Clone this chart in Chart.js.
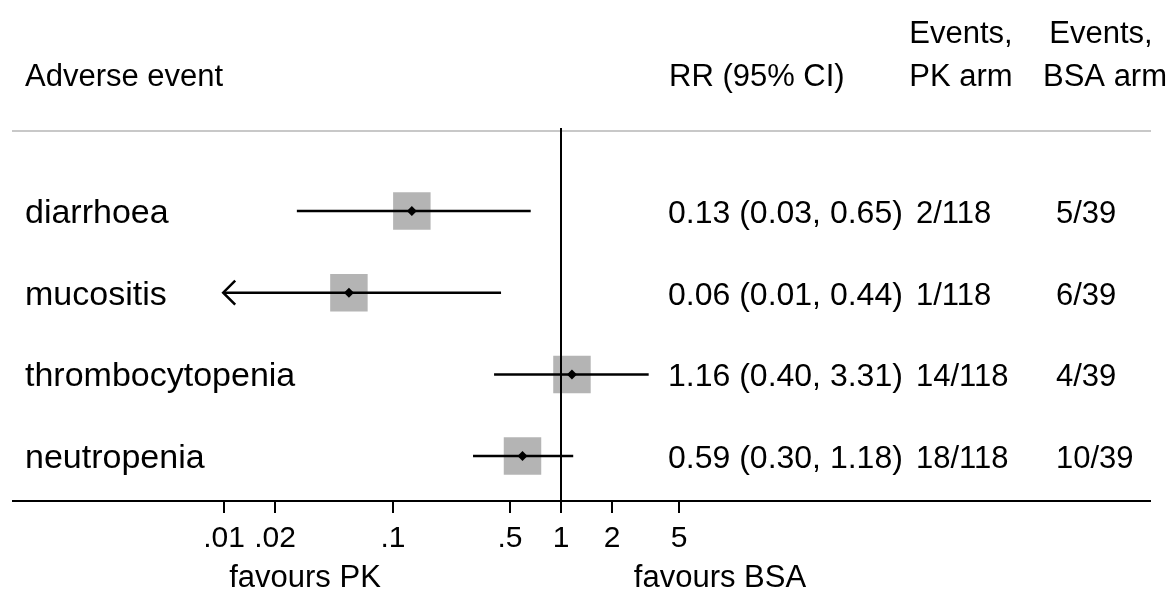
<!DOCTYPE html>
<html>
<head>
<meta charset="utf-8">
<title>Adverse events forest plot</title>
<script src="https://cdn.jsdelivr.net/npm/chart.js@4/dist/chart.umd.min.js"></script>
<style>
  html, body { margin: 0; padding: 0; background: #fff; }
  #wrap { width: 1176px; height: 592px; }
</style>
</head>
<body>
<div id="wrap"><canvas id="forest" width="1176" height="592"></canvas></div>
<script>
// --- data ---
const events     = ['diarrhoea', 'mucositis', 'thrombocytopenia', 'neutropenia'];
const rr         = [0.13, 0.055, 1.16, 0.59];
const ciLow      = [0.027, 0.01, 0.40, 0.30];
const ciHigh     = [0.66, 0.44, 3.31, 1.18];
const lowClipped = [false, true, false, false];   // CI runs past the axis -> arrow
const rrText     = ['0.13 (0.03, 0.65)', '0.06 (0.01, 0.44)', '1.16 (0.40, 3.31)', '0.59 (0.30, 1.18)'];
const pkEvents   = ['2/118', '1/118', '14/118', '18/118'];
const bsaEvents  = ['5/39', '6/39', '4/39', '10/39'];
const tickValues = [0.01, 0.02, 0.1, 0.5, 1, 2, 5];
const tickLabels = ['.01', '.02', '.1', '.5', '1', '2', '5'];

const FONT = '"Liberation Sans", Arial, Helvetica, sans-serif';
const GREY_BOX = '#b4b4b4';

// text columns, axis, header lines etc.
const forestDecor = {
  id: 'forestDecor',
  afterDatasetsDraw(chart) {
    const { ctx, chartArea: a, scales: { x, y } } = chart;
    ctx.save();

    // header separator
    ctx.strokeStyle = '#c8c8c8';
    ctx.lineWidth = 2;
    ctx.beginPath(); ctx.moveTo(a.left, a.top); ctx.lineTo(a.right, a.top); ctx.stroke();

    // line of no effect
    ctx.strokeStyle = '#000';
    const x1 = Math.round(x.getPixelForValue(1));
    ctx.beginPath(); ctx.moveTo(x1, a.top - 3); ctx.lineTo(x1, a.bottom); ctx.stroke();

    // x axis
    ctx.beginPath(); ctx.moveTo(a.left, a.bottom); ctx.lineTo(a.right, a.bottom); ctx.stroke();
    ctx.font = '30px ' + FONT;
    ctx.fillStyle = '#000';
    ctx.textAlign = 'center';
    ctx.textBaseline = 'alphabetic';
    tickValues.forEach((v, i) => {
      const px = Math.round(x.getPixelForValue(v));
      ctx.beginPath(); ctx.moveTo(px, a.bottom); ctx.lineTo(px, a.bottom + 12); ctx.stroke();
      ctx.fillText(tickLabels[i], px, a.bottom + 46);
    });
    ctx.font = '31px ' + FONT;
    ctx.fillText('favours PK', 305, a.bottom + 86);
    ctx.fillText('favours BSA', 720, a.bottom + 86);

    // arrows for clipped intervals
    ctx.lineWidth = 2.5;
    events.forEach((_, i) => {
      if (!lowClipped[i]) return;
      const tip = x.getPixelForValue(ciLow[i]) - 1;
      const py = y.getPixelForValue(i);
      ctx.beginPath();
      ctx.moveTo(tip + 12, py - 12); ctx.lineTo(tip, py); ctx.lineTo(tip + 12, py + 12);
      ctx.stroke();
    });

    // headers
    ctx.font = '31px ' + FONT;
    ctx.textAlign = 'left';
    ctx.fillText('Adverse event', 25, 86);
    ctx.fillText('RR (95% CI)', 669, 86);
    ctx.textAlign = 'center';
    ctx.fillText('Events,', 961, 43);
    ctx.fillText('PK arm', 961, 86);
    ctx.fillText('Events,', 1101, 43);
    ctx.fillText('BSA arm', 1105, 86);

    // row text
    ctx.textAlign = 'left';
    events.forEach((name, i) => {
      const py = y.getPixelForValue(i) + 12;
      ctx.font = '34px ' + FONT;
      ctx.fillText(name, 25, py);
      ctx.font = '32px ' + FONT;
      ctx.fillText(rrText[i], 668, py);
      ctx.font = '31px ' + FONT;
      ctx.fillText(pkEvents[i], 916, py);
      ctx.fillText(bsaEvents[i], 1056, py);
    });

    ctx.restore();
  }
};

const ciSets = events.map((name, i) => ({
  type: 'line',
  label: name + ' CI',
  data: [{ x: ciLow[i], y: i }, { x: ciHigh[i], y: i }],
  borderColor: '#000',
  borderWidth: 2.5,
  pointRadius: 0,
  order: 1
}));

new Chart(document.getElementById('forest'), {
  type: 'scatter',
  data: {
    datasets: [
      {
        label: 'RR',
        data: rr.map((v, i) => ({ x: v, y: i })),
        pointStyle: 'rectRot',
        pointRadius: 5,
        backgroundColor: '#000',
        borderWidth: 0,
        order: 0
      },
      ...ciSets,
      {
        label: 'weight',
        data: rr.map((v, i) => ({ x: v, y: i })),
        pointStyle: 'rect',
        pointRadius: 26.5,
        backgroundColor: GREY_BOX,
        borderWidth: 0,
        order: 2
      }
    ]
  },
  options: {
    responsive: false,
    animation: false,
    events: [],
    layout: { autoPadding: false, padding: { left: 12, right: 25, top: 131, bottom: 91 } },
    plugins: { legend: { display: false }, tooltip: { enabled: false } },
    scales: {
      x: { type: 'logarithmic', display: false, min: 0.00055, max: 3175 },
      y: { type: 'linear', display: false, reverse: true, min: -0.98, max: 3.55 }
    }
  },
  plugins: [forestDecor]
});
</script>
</body>
</html>
